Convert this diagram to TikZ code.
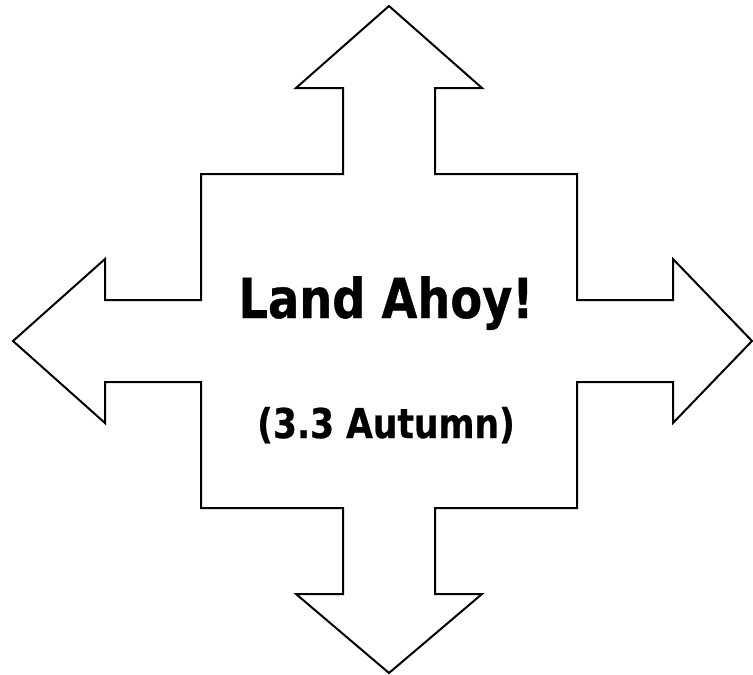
\documentclass[tikz,border=0pt]{standalone}
\usepackage{fontspec}
\newfontfamily\labelfont[FakeStretch=0.842,FakeBold=0.6]{DejaVu Sans}
\begin{document}
\begin{tikzpicture}[x=1pt,y=-1pt,
  outline/.style={draw=black,line width=2pt,line join=miter,fill=white},
  titletext/.style={font=\labelfont\bfseries\fontsize{55}{60}\selectfont,anchor=base,inner sep=0pt},
  subtext/.style={font=\labelfont\bfseries\fontsize{41}{44}\selectfont,anchor=base,inner sep=0pt}]
\useasboundingbox (0,0) rectangle (753,675);
\draw[outline] (389,6) -- (482,88) -- (435,88) -- (435,174) -- (577,174) -- (577,300)
  -- (673,300) -- (673,259) -- (752,341) -- (673,423) -- (673,382) -- (577,382)
  -- (577,508) -- (435,508) -- (435,594) -- (482,594) -- (389,673) -- (296,594)
  -- (343,594) -- (343,508) -- (201,508) -- (201,382) -- (105,382) -- (105,423)
  -- (13,341) -- (105,259) -- (105,300) -- (201,300) -- (201,174) -- (343,174)
  -- (343,88) -- (296,88) -- cycle;
\node[titletext] (title) at (386,318) {Land Ahoy!};
\node[subtext] (sub) at (386,438) {(3.3 Autumn)};
\end{tikzpicture}
\end{document}
